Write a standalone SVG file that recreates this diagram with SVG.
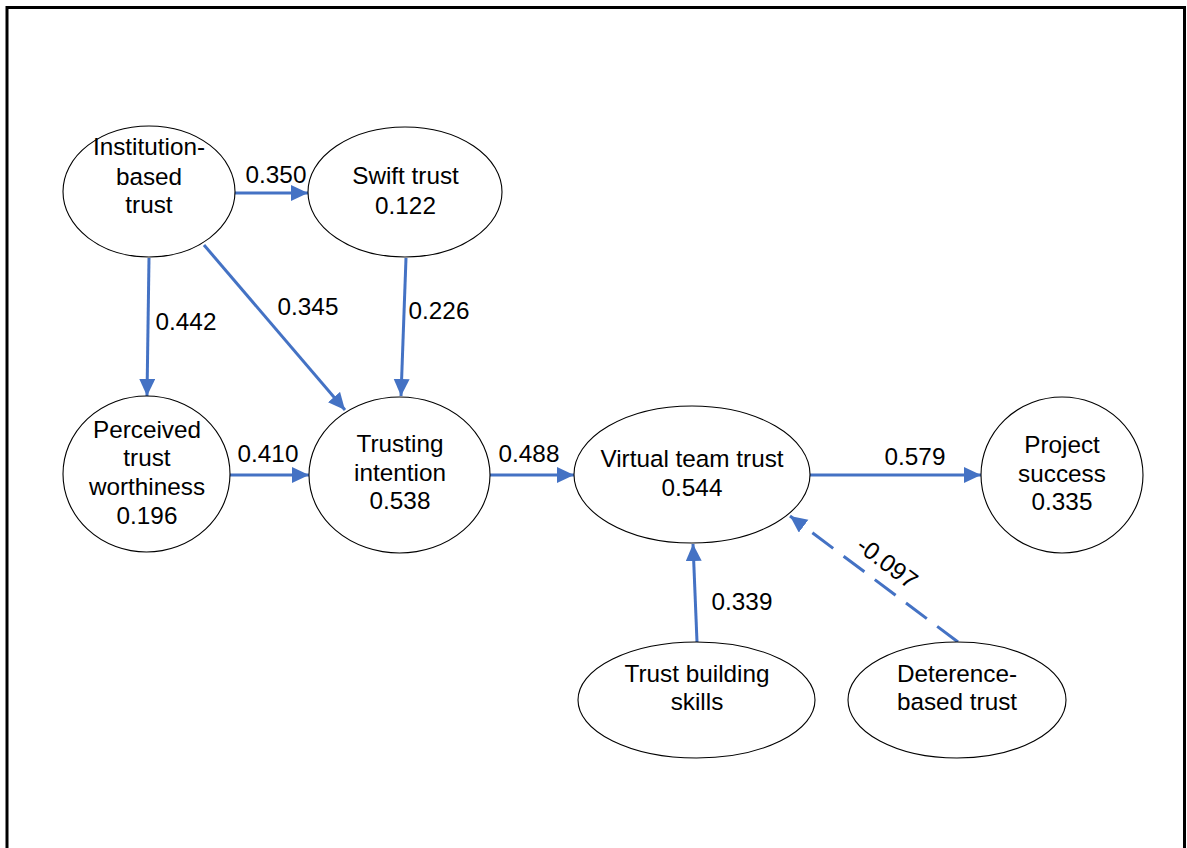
<svg xmlns="http://www.w3.org/2000/svg" width="1187" height="848" viewBox="0 0 1187 848">
  <style>
    .node ellipse { fill: #ffffff; stroke: #000000; stroke-width: 1.1; }
    text { font-family: "Liberation Sans", Arial, sans-serif; font-size: 24.3px; fill: #000000; }
    .node text { text-anchor: middle; }
    .edge { fill: none; stroke: #4472C4; stroke-width: 3; marker-end: url(#head); }
    .dashed { stroke-dasharray: 26 13; }
  </style>
  <defs>
    <marker id="head" markerUnits="userSpaceOnUse" markerWidth="18" markerHeight="17" refX="17" refY="8" orient="auto">
      <path d="M0,0 L17,8 L0,16 Z" fill="#4472C4"/>
    </marker>
  </defs>

  <rect width="1187" height="848" fill="#ffffff"/>
  <!-- outer frame, open at the bottom -->
  <path d="M7,850 V7.5 H1184.5 V850" fill="none" stroke="#000000" stroke-width="3"/>

  <!-- connectors -->
  <g id="connectors">
    <line class="edge" x1="235" y1="193" x2="308" y2="193"/>
    <line class="edge" x1="149" y1="258" x2="147" y2="396"/>
    <line class="edge" x1="204" y1="245" x2="345" y2="410"/>
    <line class="edge" x1="406" y1="258" x2="401" y2="396"/>
    <line class="edge" x1="230" y1="475" x2="309" y2="475"/>
    <line class="edge" x1="490" y1="475" x2="574" y2="475"/>
    <line class="edge" x1="810" y1="475" x2="981" y2="475"/>
    <line class="edge" x1="697" y1="642" x2="693" y2="544"/>
    <line class="edge dashed" x1="958" y1="642" x2="790" y2="516"/>

    <text x="276" y="183" text-anchor="middle">0.350</text>
    <text x="186" y="330" text-anchor="middle">0.442</text>
    <text x="308" y="315" text-anchor="middle">0.345</text>
    <text x="439" y="319" text-anchor="middle">0.226</text>
    <text x="268" y="462" text-anchor="middle">0.410</text>
    <text x="529" y="462" text-anchor="middle">0.488</text>
    <text x="915" y="465" text-anchor="middle">0.579</text>
    <text x="742" y="610" text-anchor="middle">0.339</text>
    <text x="887" y="571" text-anchor="middle" transform="rotate(37 887 563)">-0.097</text>
  </g>

  <g id="institution-based-trust" class="node">
    <ellipse cx="149" cy="191.5" rx="86" ry="65.5"/>
    <text x="149" y="155">Institution-</text>
    <text x="149" y="185">based</text>
    <text x="149" y="213">trust</text>
  </g>

  <g id="swift-trust" class="node">
    <ellipse cx="405" cy="192" rx="97" ry="65"/>
    <text x="405.5" y="184">Swift trust</text>
    <text x="405.5" y="214">0.122</text>
  </g>

  <g id="perceived-trust-worthiness" class="node">
    <ellipse cx="146.5" cy="474" rx="83.5" ry="78"/>
    <text x="147" y="438">Perceived</text>
    <text x="147" y="466">trust</text>
    <text x="147" y="495">worthiness</text>
    <text x="147" y="524">0.196</text>
  </g>

  <g id="trusting-intention" class="node">
    <ellipse cx="399.5" cy="475" rx="90.5" ry="78"/>
    <text x="400" y="452">Trusting</text>
    <text x="400" y="481">intention</text>
    <text x="400" y="509">0.538</text>
  </g>

  <g id="virtual-team-trust" class="node">
    <ellipse cx="692" cy="474.5" rx="118" ry="68.5"/>
    <text x="692" y="467">Virtual team trust</text>
    <text x="692" y="496">0.544</text>
  </g>

  <g id="project-success" class="node">
    <ellipse cx="1062" cy="475" rx="81" ry="78"/>
    <text x="1062" y="453">Project</text>
    <text x="1062" y="482">success</text>
    <text x="1062" y="510">0.335</text>
  </g>

  <g id="trust-building-skills" class="node">
    <ellipse cx="696.5" cy="700" rx="118.5" ry="58"/>
    <text x="697" y="682">Trust building</text>
    <text x="697" y="710">skills</text>
  </g>

  <g id="deterence-based-trust" class="node">
    <ellipse cx="957" cy="700" rx="109" ry="58"/>
    <text x="957" y="682">Deterence-</text>
    <text x="957" y="710">based trust</text>
  </g>
</svg>
